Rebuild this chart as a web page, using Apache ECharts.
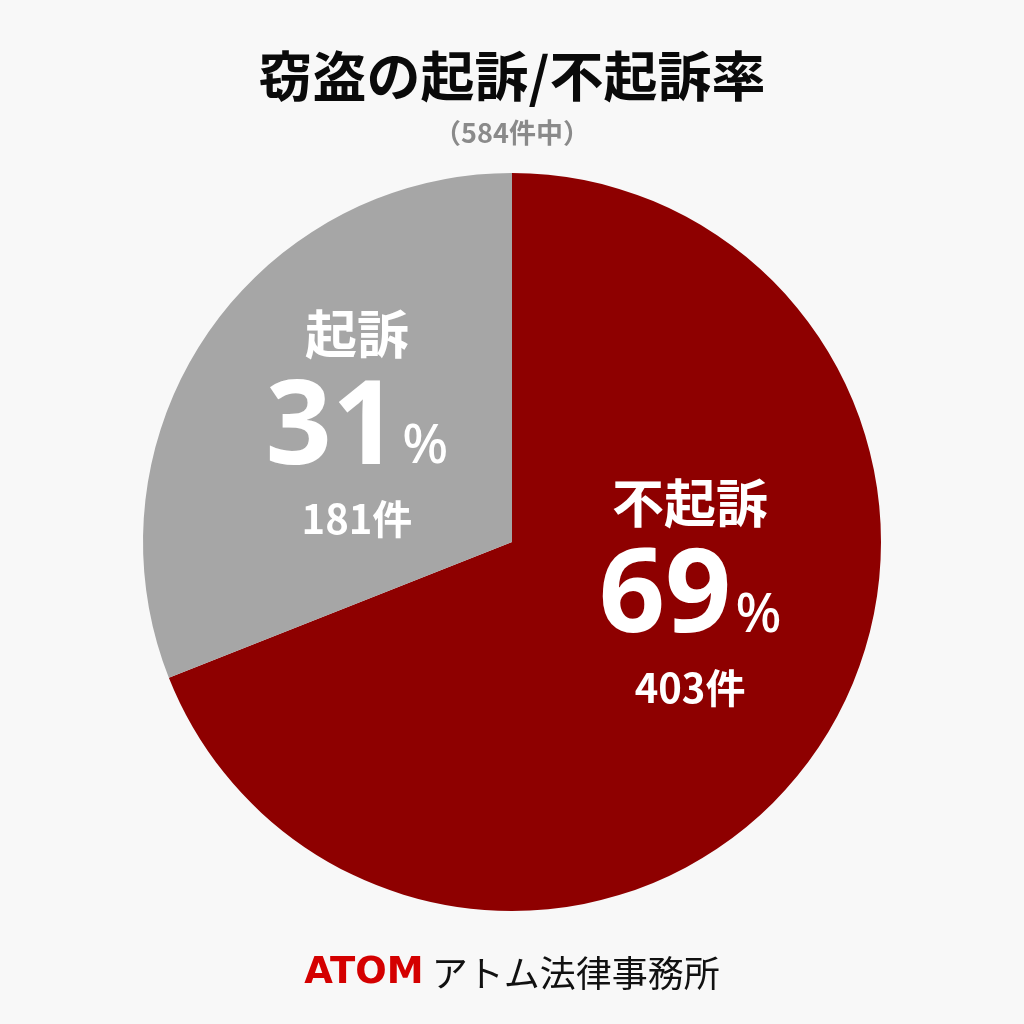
<!DOCTYPE html>
<html><head><meta charset="utf-8">
<script src="https://cdn.jsdelivr.net/npm/echarts@6/dist/echarts.min.js"></script>
<style>html,body{margin:0;padding:0;background:#F8F8F8;}#c{width:1024px;height:1024px;}</style>
</head><body><div id="c"></div>
<script>
const categories = ['不起訴', '起訴'];
const counts = [403, 181];
const percents = [69, 31];
const colors = ['#8E0000', '#A6A6A6'];
const total = 584;

const chart = echarts.init(document.getElementById('c'), null, {renderer: 'canvas'});
const F = '"Noto Sans CJK JP", "Noto Sans", sans-serif';
const N = '"Noto Sans", "Open Sans", sans-serif';
const offsets = [[23, -56], [0, -14]];
chart.setOption({
  backgroundColor: '#F8F8F8',
  animation: false,
  title: [{
    text: '窃盗の起訴/不起訴率',
    left: 'center', top: 44,
    textStyle: {fontFamily: F, fontWeight: 'bold', fontSize: 54, color: '#0a0a0a'}
  }, {
    text: '（' + total + '件中）',
    left: 'center', top: 114,
    textStyle: {fontFamily: F, fontWeight: 'bold', fontSize: 27, color: '#8a8a8a'}
  }, {
    text: '{a|ATOM}{b| アトム法律事務所}',
    left: 'center', top: 950,
    textStyle: {
      rich: {
        a: {fontFamily: '"DejaVu Sans", "Liberation Sans", sans-serif', fontWeight: 'bold', fontSize: 37, color: '#D40000'},
        b: {fontFamily: F, fontWeight: 'normal', fontSize: 36, color: '#111'}
      }
    }
  }],
  series: [{
    type: 'pie',
    center: [512, 542],
    radius: [0, 369],
    startAngle: 90,
    clockwise: true,
    silent: true,
    data: categories.map((c, i) => ({
      name: c, value: counts[i],
      itemStyle: {color: colors[i]},
      label: {offset: offsets[i]}
    })),
    label: {
      show: true,
      position: 'inside',
      formatter: p => '{n|' + p.name + '}\n{p|' + percents[p.dataIndex] + '}{s|%}\n{c|' + counts[p.dataIndex] + '件}',
      rich: {
        n: {fontFamily: F, fontWeight: 'bold', fontSize: 52, color: '#fff', lineHeight: 76, align: 'center'},
        p: {fontFamily: N, fontWeight: 'bold', fontSize: 116, color: '#fff', lineHeight: 116, verticalAlign: 'bottom'},
        s: {fontFamily: N, fontWeight: 500, fontSize: 54, color: '#fff', lineHeight: 116, verticalAlign: 'bottom', padding: [0, 0, 14, 4]},
        c: {fontFamily: F, fontWeight: 'bold', fontSize: 40, color: '#fff', lineHeight: 60, align: 'center'}
      }
    },
    labelLine: {show: false}
  }]
});
</script></body></html>
